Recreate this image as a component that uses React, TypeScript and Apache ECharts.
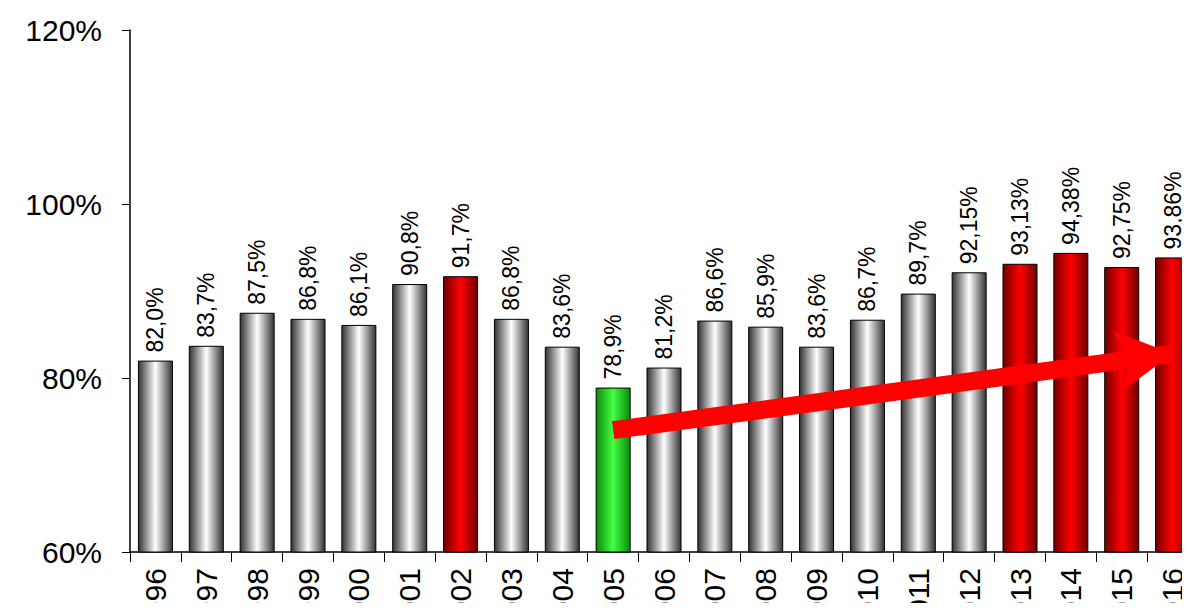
import React, { useEffect, useRef } from "react";
import * as echarts from "echarts";

const years = ["1996","1997","1998","1999","2000","2001","2002","2003","2004","2005","2006","2007","2008","2009","2010","2011","2012","2013","2014","2015","2016"];
const values = [82.0,83.7,87.5,86.8,86.1,90.8,91.7,86.8,83.6,78.9,81.2,86.6,85.9,83.6,86.7,89.7,92.15,93.13,94.38,92.75,93.86];
const labels = ["82,0%","83,7%","87,5%","86,8%","86,1%","90,8%","91,7%","86,8%","83,6%","78,9%","81,2%","86,6%","85,9%","83,6%","86,7%","89,7%","92,15%","93,13%","94,38%","92,75%","93,86%"];
const redYears = ["2002","2013","2014","2015","2016"];
const greenYears = ["2005"];
const arrowFrom = { year: "2005", value: 74.0 };
const arrowTo = { year: "2016", value: 82.8 };

const grad = (edge: string, mid: string) =>
  new echarts.graphic.LinearGradient(0, 0, 1, 0, [
    { offset: 0, color: edge },
    { offset: 0.5, color: mid },
    { offset: 1, color: edge },
  ]);

const App = () => {
  const ref = useRef<HTMLDivElement>(null);
  useEffect(() => {
    if (!ref.current) return;
    const chart = echarts.init(ref.current, undefined, { renderer: "svg" });
    chart.setOption({
      animation: false,
      backgroundColor: "#fff",
      grid: { left: 130, right: -8, top: 30, bottom: 59, outerBoundsMode: "none", containLabel: false },
      xAxis: {
        type: "category",
        data: years,
        axisLine: { lineStyle: { color: "#000", width: 1.5 } },
        axisTick: { show: true, length: 10, lineStyle: { color: "#000" } },
        axisLabel: { rotate: 90, margin: 16, fontSize: 30, color: "#000", fontFamily: "Liberation Sans" },
      },
      yAxis: {
        type: "value",
        min: 60,
        max: 120,
        interval: 20,
        splitLine: { show: false },
        axisLine: { show: true, lineStyle: { color: "#000", width: 1.5 } },
        axisTick: { show: true, length: 8, lineStyle: { color: "#000" } },
        axisLabel: { formatter: "{value}%", fontSize: 30, color: "#000", fontFamily: "Liberation Sans", margin: 28 },
      },
      series: [
        {
          type: "bar",
          barWidth: 35,
          data: values.map((v, i) => {
            const y = years[i];
            const color = redYears.includes(y)
              ? grad("#700000", "#ff0000")
              : greenYears.includes(y)
              ? grad("#0a8a0a", "#44ff44")
              : grad("#333333", "#ffffff");
            return { value: v, itemStyle: { color, borderColor: "#000", borderWidth: 1 } };
          }),
          label: {
            show: true,
            position: "top",
            rotate: 90,
            align: "left",
            verticalAlign: "middle",
            distance: 8,
            fontSize: 23,
            color: "#000",
            fontFamily: "Liberation Sans",
            formatter: (p: any) => labels[p.dataIndex],
          },
          markLine: {
            silent: true,
            symbol: ["none", "arrow"],
            symbolSize: [46, 56],
            label: { show: false },
            lineStyle: { color: "#ff0000", width: 18, type: "solid" },
            data: [[
              { coord: [arrowFrom.year, arrowFrom.value] },
              { coord: [arrowTo.year, arrowTo.value] },
            ]],
          },
        },
      ],
    });
    return () => chart.dispose();
  }, []);
  return <div ref={ref} style={{ width: 1190, height: 611, margin: -8 }} />;
};

export default App;
